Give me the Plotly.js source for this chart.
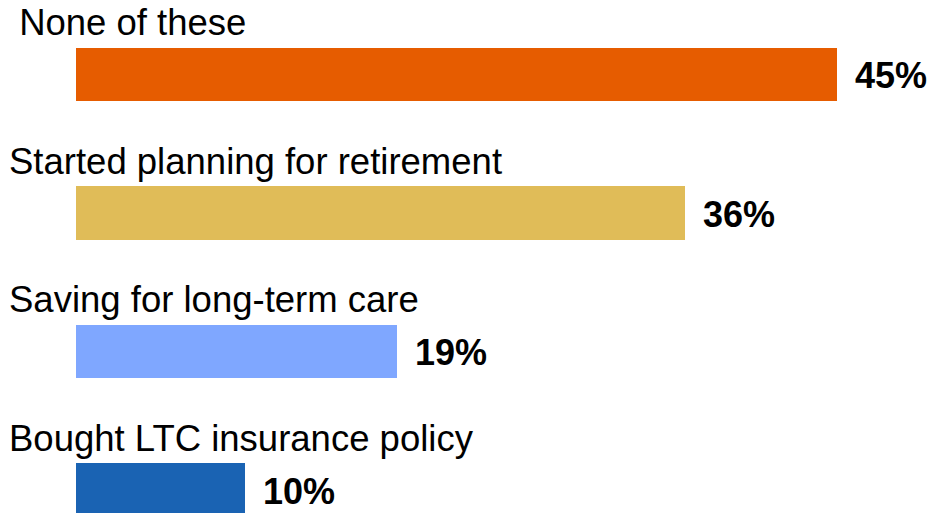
<!DOCTYPE html>
<html>
<head>
<meta charset="utf-8">
<script src="https://cdn.plot.ly/plotly-3.0.1.min.js"></script>
<style>html,body{margin:0;padding:0;background:#fff;}#chart{width:934px;height:513px;}</style>
</head>
<body>
<div id="chart"></div>
<script>
const categories = ["\u00a0None of these", "Started planning for retirement", "Saving for long-term care", "Bought LTC insurance policy"];
const values = [45, 36, 19, 10];
const valueLabels = ["45%", "36%", "19%", "10%"];
const colors = ["#E65C00", "#E0BC58", "#7FA7FF", "#1A63B3"];

const positions = categories.map((c, i) => i);
const FONT = "Liberation Sans, Arial, sans-serif";

const trace = {
  type: "bar",
  orientation: "h",
  x: values,
  y: positions,
  width: 0.383,
  marker: {color: colors, line: {width: 0}},
  hoverinfo: "skip",
  showlegend: false
};

const annotations = [];
categories.forEach((c, i) => {
  annotations.push({
    text: c, xref: "paper", yref: "y", x: 7/934, y: positions[i],
    xanchor: "left", yanchor: "middle", yshift: 52, showarrow: false,
    font: {family: FONT, size: 36.5, color: "#000"}
  });
  annotations.push({
    text: "<b>" + valueLabels[i] + "</b>", xref: "x", yref: "y", x: values[i], y: positions[i],
    xanchor: "left", yanchor: "middle", xshift: 16, yshift: -1, showarrow: false,
    font: {family: FONT, size: 36, color: "#000"}
  });
});

const layout = {
  width: 934, height: 513,
  margin: {l: 0, r: 0, t: 0, b: 0, pad: 0},
  paper_bgcolor: "#fff", plot_bgcolor: "#fff",
  xaxis: {range: [-76/16.91, (934-76)/16.91], visible: false, fixedrange: true},
  yaxis: {range: [(513-74.5)/138.5, -74.5/138.5], visible: false, fixedrange: true},
  annotations: annotations,
  bargap: 0
};

Plotly.newPlot("chart", [trace], layout, {displayModeBar: false, staticPlot: true});
</script>
</body>
</html>
